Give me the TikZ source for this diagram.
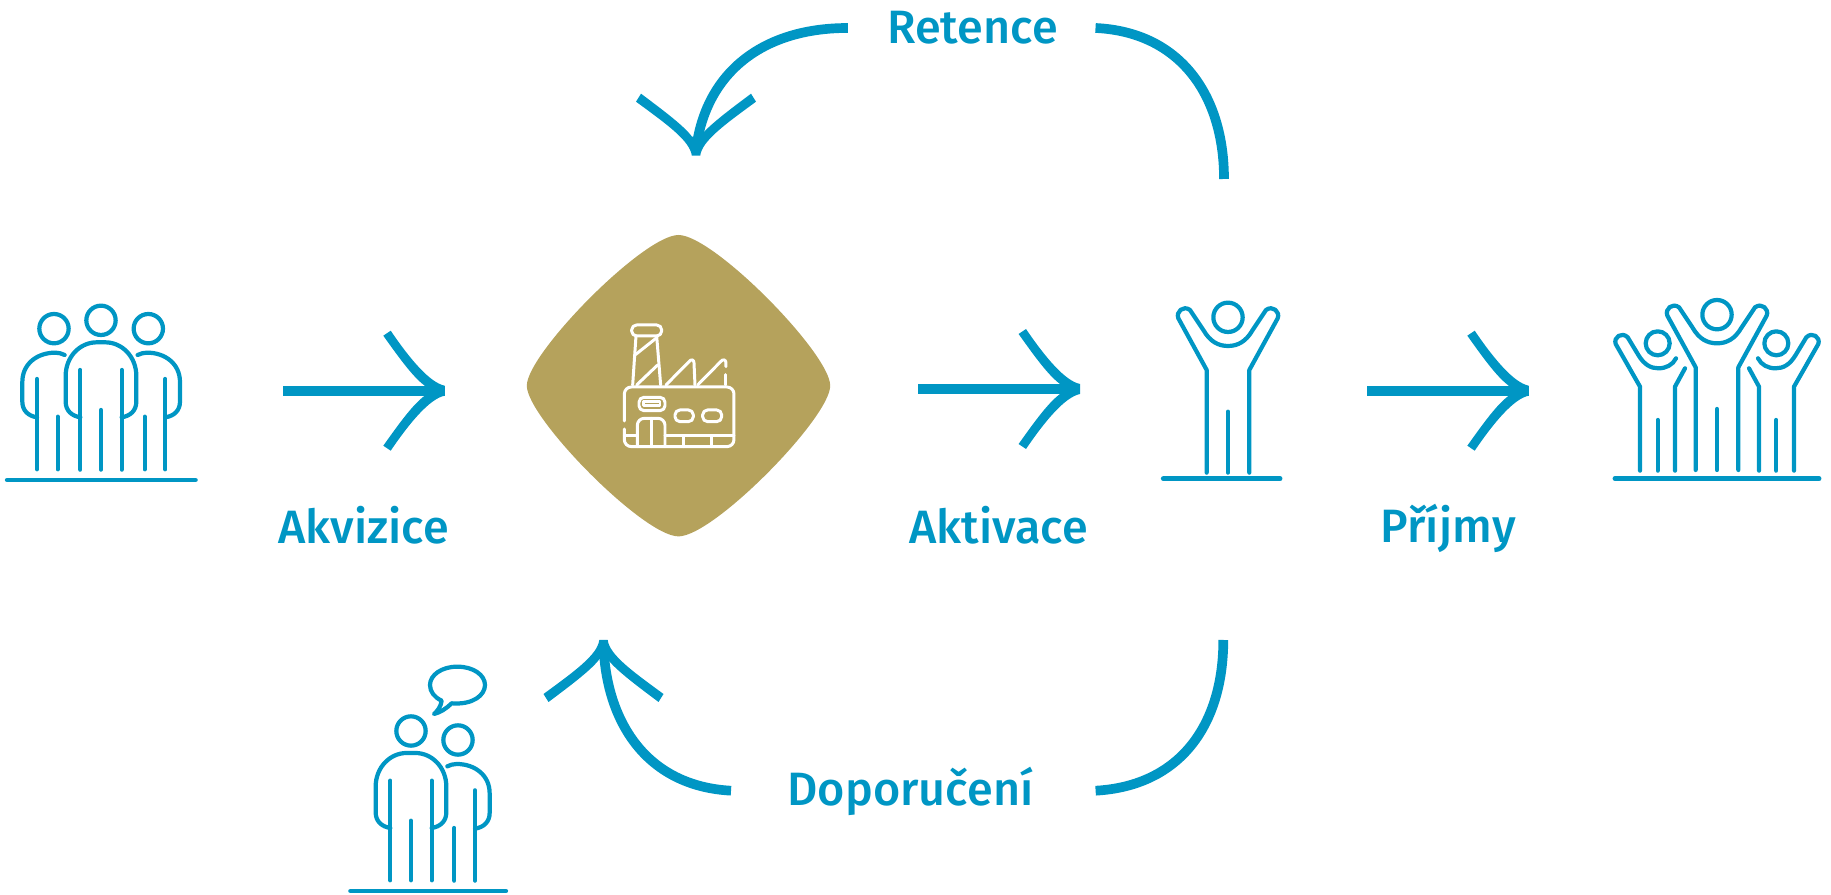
\documentclass[tikz,border=0pt]{standalone}
\usepackage{fontspec}
\setmainfont{Fira Sans Medium}
\definecolor{flowblue}{HTML}{0096C4}
\definecolor{plantgold}{HTML}{B5A25C}
\tikzset{
    iconpic/.style={scale=.3333},
    iconline/.style={draw=flowblue,line width=1.2pt,line cap=round,line join=round},
    iconbase/.style={draw=flowblue,line width=1.4pt,line cap=round},
    plantline/.style={draw=white,line width=.85pt,line cap=round,line join=round},
    flowline/.style={draw=flowblue,line width=2.75pt},
    steplabel/.style={text=flowblue,anchor=base,inner sep=0pt,font=\fontsize{13.3}{15}\selectfont},
    % arrow heads, tip at the origin
    sidetip/.pic={
        \fill[flowblue] (-61.4,-55) -- (-54,-60) .. controls (-35,-32) and (-15,-8) .. (0,-5)
            -- (0,5) .. controls (-15,8) and (-35,32) .. (-54,60) -- (-61.4,55)
            .. controls (-45,32) and (-32,14) .. (-20,5) -- (-20,-5)
            .. controls (-32,-14) and (-45,-32) .. (-61.4,-55) -- cycle;
    },
    downtip/.pic={
        \fill[flowblue] (-60,-54) .. controls (-30,-32) and (-6,-15) .. (-4.2,0) -- (4.2,0)
            .. controls (6,-15) and (30,-32) .. (60,-54) -- (55,-62)
            .. controls (35,-47) and (12,-30) .. (4,-19) -- (-4,-19)
            .. controls (-12,-30) and (-35,-47) .. (-55,-62) -- cycle;
    },
    % people, origin at the centre of the head
    frontbody/.pic={
        \draw[iconline] (0,0) circle (44);
        \draw[iconline] (-62,291) .. controls (-88,287) and (-106,271) .. (-106,244) -- (-106,167)
            .. controls (-106,109) and (-63,66) .. (-13,66) -- (13,66)
            .. controls (63,66) and (106,109) .. (106,167) -- (106,244)
            .. controls (106,271) and (88,287) .. (62,291);
        \foreach \x/\y in {-62/149,62/149,0/269}
            \draw[iconline] (\x,\y) -- (\x,448);
    },
    sidebody/.pic={
        \draw[iconline] (0,0) circle (44);
        \draw[iconline] (-32,79) .. controls (-24,75) and (-14,72) .. (-4,72)
            .. controls (50,72) and (95,105) .. (95,160) -- (95,219)
            .. controls (95,245) and (78,262) .. (51,266);
        \foreach \x/\y in {51/151,-11/264}
            \draw[iconline] (\x,\y) -- (\x,422);
    },
    armsbody/.pic={
        \draw[iconline] (0,0) circle (44);
        \draw[iconline] (-64,466) -- (-64,158) -- (-149,3) .. controls (-157,-17) and (-134,-37) .. (-114,-22)
            -- (-74,38) .. controls (-54,73) and (-29,86) .. (0,86) .. controls (29,86) and (54,73) .. (74,38)
            -- (114,-22) .. controls (134,-37) and (157,-17) .. (149,3) -- (64,158) -- (64,466);
        \draw[iconline] (0,283) -- (0,466);
    },
    armsside/.pic={
        \draw[iconline] (0,0) circle (36);
        \draw[iconline] (-53,382) -- (-53,130) -- (-126,2) .. controls (-133,-18) and (-108,-36) .. (-90,-18)
            -- (-58,35) .. controls (-40,65) and (-20,75) .. (2,75) .. controls (25,75) and (45,65) .. (55,45);
        \draw[iconline] (82,75) -- (52,130) -- (52,382);
        \draw[iconline] (0,230) -- (0,382);
    },
}
\begin{document}
\begin{tikzpicture}[x=.01cm,y=-.01cm]
\useasboundingbox (0,0) rectangle (1831,895);

% Plant in the middle
\fill[plantgold] (678.5,235) .. controls (713.5,235) and (830.2,353.7) .. (830.2,385.7)
    .. controls (830.2,417.7) and (713.5,536.4) .. (678.5,536.4)
    .. controls (643.5,536.4) and (526.8,417.7) .. (526.8,385.7)
    .. controls (526.8,353.7) and (643.5,235) .. (678.5,235) -- cycle;
\begin{scope}[shift={(510,220)},scale=.3333]
    \draw[plantline,rounded corners=1.4pt] (365,315) rectangle (455,348);
    \draw[plantline] (378,348) -- (368,495);
    \draw[plantline] (440,348) -- (452,495);
    \draw[plantline] (375,405) -- (438,355);
    \draw[plantline] (380,495) -- (443,435);
    \draw[plantline] (468,495) -- (538,424) .. controls (544,416) and (552,420) .. (552,428) -- (555,495);
    \draw[plantline] (563,495) -- (633,424) .. controls (639,416) and (648,420) .. (648,428) -- (648,440);
    \draw[plantline] (648,464) -- (648,495);
    \draw[plantline,rounded corners=2pt] (343,603) -- (343,501) -- (672,501) -- (672,680) -- (343,680) -- (343,627);
    \draw[plantline,rounded corners=1.4pt] (387,532) rectangle (465,572);
    \draw[plantline] (400,545) rectangle (450,558);
    \draw[plantline,rounded corners=1.4pt] (495,570) rectangle (550,605);
    \draw[plantline,rounded corners=1.4pt] (578,570) rectangle (635,605);
    \draw[plantline,rounded corners=2pt] (382,680) -- (382,595) -- (465,595) -- (465,680);
    \draw[plantline] (424,595) -- (424,680);
    \draw[plantline] (343,648) -- (382,648);
    \draw[plantline] (465,648) -- (672,648);
    \draw[plantline] (522,648) -- (522,680);
    \draw[plantline] (606,648) -- (606,680);
\end{scope}

% Three people on the left
\begin{scope}[shift={(0,290)},scale=.3333]
    \pic[iconpic] at (303,91) {frontbody};
    \pic[iconpic] at (445,116) {sidebody};
    \pic[iconpic,xscale=-1] at (162,116) {sidebody};
    \draw[iconbase] (22,570) -- (586,570);
\end{scope}

% One person with raised arms
\begin{scope}[shift={(1160,280)},scale=.3333]
    \pic[iconpic] at (204,112) {armsbody};
    \draw[iconbase] (10,596) -- (360,596);
\end{scope}

% Three people with raised arms
\begin{scope}[shift={(1600,280)},scale=.3333]
    \pic[iconpic] at (351,104) {armsbody};
    \pic[iconpic] at (173,190) {armsside};
    \pic[iconpic,xscale=-1] at (529,190) {armsside};
    \draw[iconbase] (45,596) -- (657,596);
\end{scope}

% Two people talking
\begin{scope}[shift={(340,650)},scale=.3333]
    \pic[iconpic] at (213,243) {frontbody};
    \pic[iconpic] at (354,270) {sidebody};
    \draw[iconline] (335,160) .. controls (400,165) and (435,135) .. (435,105)
        .. controls (435,75) and (400,50) .. (352,50) .. controls (305,50) and (270,75) .. (270,105)
        .. controls (270,125) and (283,142) .. (305,152) .. controls (303,170) and (292,183) .. (282,192)
        .. controls (300,188) and (320,175) .. (335,160) -- cycle;
    \draw[iconbase] (32,723) -- (497,723);
\end{scope}

% Labels
\node[steplabel] (akvizice) at (363.8,544) {Akvizice};
\node[steplabel] (aktivace) at (998.7,544) {Aktivace};
\node[steplabel] (prijmy) at (1448,542.3) {Příjmy};
\node[steplabel] (retence) at (972.5,43.3) {Retence};
\node[steplabel] (doporuceni) at (910.5,805.7) {Doporučení};

% Straight arrows
\coordinate (akvFrom) at (283,390.7);
\coordinate (akvTip) at (444.7,390.7);
\coordinate (aktFrom) at (918,389);
\coordinate (aktTip) at (1080,389);
\coordinate (priFrom) at (1367.3,390.7);
\coordinate (priTip) at (1528.7,390.7);
\foreach \from/\tip in {akvFrom/akvTip,aktFrom/aktTip,priFrom/priTip}{
    \draw[flowline] (\from) -- (\tip);
    \pic at (\tip) {sidetip};
}

% Curved arrows
\coordinate (retFrom) at (847.8,28);
\coordinate (retTip) at (696,155.7);
\coordinate (retBack) at (1095.5,28);
\coordinate (retEnd) at (1224,179);
\coordinate (dopFrom) at (731,790.7);
\coordinate (dopTip) at (603.5,640);
\coordinate (dopBack) at (1095.6,790.7);
\coordinate (dopEnd) at (1223.3,640);
\draw[flowline] (retFrom) .. controls (760,28) and (705,75) .. (696,150);
\pic at (retTip) {downtip};
\draw[flowline] (retBack) .. controls (1180,32) and (1224,95) .. (retEnd);
\draw[flowline] (dopFrom) .. controls (645,786) and (606,720) .. (603.5,645);
\pic[yscale=-1] at (dopTip) {downtip};
\draw[flowline] (dopBack) .. controls (1180,786) and (1223.3,725) .. (dopEnd);
\end{tikzpicture}
\end{document}
